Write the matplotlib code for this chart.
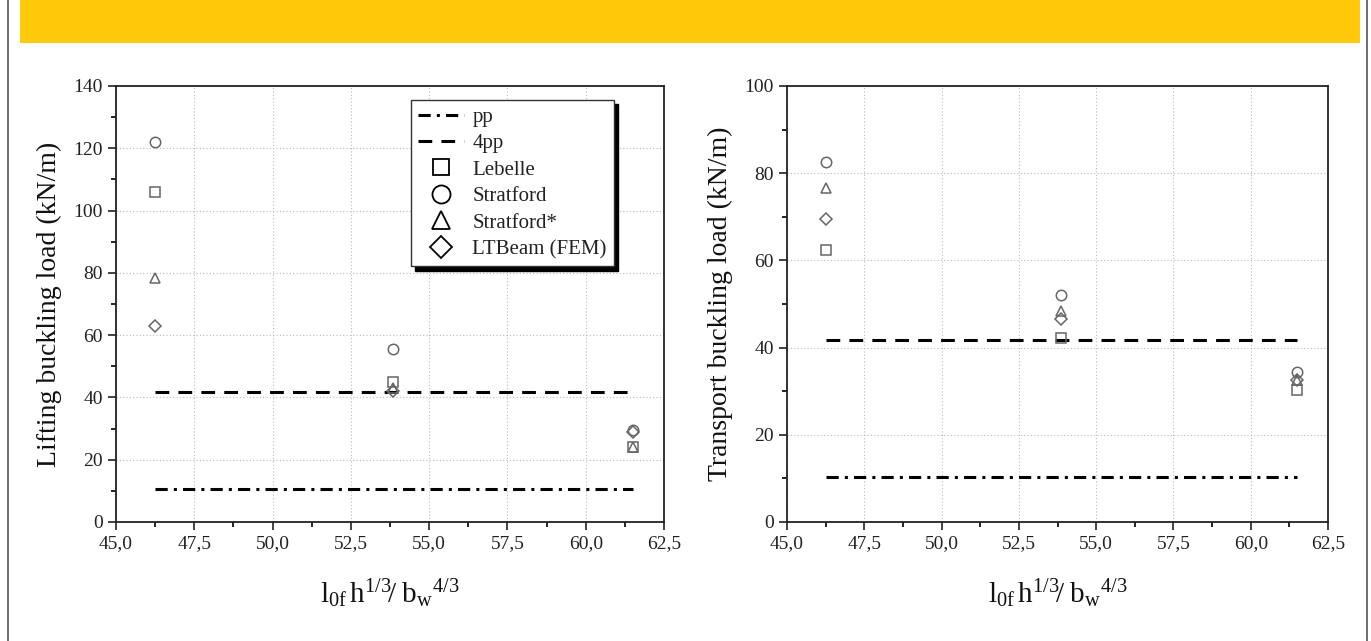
import matplotlib
matplotlib.use("Agg")
import matplotlib.pyplot as plt
from matplotlib.lines import Line2D
from matplotlib.patches import Rectangle
from matplotlib.ticker import MultipleLocator, FuncFormatter

plt.rcParams['font.family'] = ['Liberation Serif', 'DejaVu Serif']
plt.rcParams['mathtext.fontset'] = 'custom'
plt.rcParams['mathtext.rm'] = 'Liberation Serif'
plt.rcParams['mathtext.it'] = 'Liberation Serif'

# Data
x_vals = [46.25, 53.85, 61.5]
line_x = [46.25, 61.5]

lift_lebelle = [106, 45, 24]
lift_stratford = [122, 55.5, 29.5]
lift_stratford_star = [78.5, 43, 24]
lift_ltbeam = [63, 42, 29]
lift_pp = 10.5
lift_4pp = 41.7

trans_lebelle = [62.5, 42.3, 30.3]
trans_stratford = [82.5, 52, 34.5]
trans_stratford_star = [76.5, 48.5, 32.5]
trans_ltbeam = [69.5, 46.5, 32.5]
trans_pp = 10.3
trans_4pp = 41.7

W, H = 1371, 641
fig = plt.figure(figsize=(W / 100, H / 100), dpi=100)

DASHDOT = (0, (4, 2, 1, 2))
DASHED = (0, (4.5, 3))

# banner and frame
fig.patches.append(Rectangle((20 / W, 1 - 43 / H), 1340 / W, 43 / H, transform=fig.transFigure,
                             facecolor='#ffca0a', edgecolor='none', zorder=0))
fig.add_artist(Line2D([8 / W, 8 / W], [0, 1], transform=fig.transFigure, color='#555555', lw=1.2))
fig.add_artist(Line2D([1367 / W, 1367 / W], [0, 1], transform=fig.transFigure, color='#555555', lw=1.2))


def fmt(v, pos):
    return ("%.1f" % v).replace('.', ',')


def make_axes(rect, ymax, ylabel, leb, st, sts, ltb, pp, p4):
    ax = fig.add_axes(rect)
    ax.set_xlim(45, 62.5)
    ax.set_ylim(0, ymax)
    ax.xaxis.set_major_locator(MultipleLocator(2.5))
    ax.xaxis.set_minor_locator(MultipleLocator(1.25))
    ax.yaxis.set_major_locator(MultipleLocator(20))
    ax.yaxis.set_minor_locator(MultipleLocator(10))
    ax.xaxis.set_major_formatter(FuncFormatter(fmt))
    ax.grid(True, which='major', color='#bbbbbb', linestyle=(0, (1, 2)), lw=0.8)
    ax.set_axisbelow(True)
    ax.tick_params(axis='both', which='major', direction='out', length=6, width=1.2,
                   labelsize=14, colors='#222222', top=False, right=False)
    ax.tick_params(axis='both', which='minor', direction='out', length=3.5, width=1.2,
                   top=False, right=False)
    for s in ax.spines.values():
        s.set_linewidth(1.3)
        s.set_color('#222222')
    ax.plot(line_x, [pp, pp], color='black', lw=2.2, linestyle=DASHDOT)
    ax.plot(line_x, [p4, p4], color='black', lw=2.2, linestyle=DASHED)
    kw = dict(linestyle='none', markerfacecolor='none', markeredgecolor='#666666',
              markeredgewidth=1.1, markersize=7.5, zorder=3)
    ax.plot(x_vals, leb, marker='s', **kw)
    ax.plot(x_vals, st, marker='o', **kw)
    ax.plot(x_vals, sts, marker='^', **kw)
    ax.plot(x_vals, ltb, marker='D', **{**kw, 'markersize': 6.5})
    ax.set_ylabel(ylabel, fontsize=20, labelpad=8, color='#111111')
    ax.set_xlabel(r'$\mathrm{l}_{\mathrm{0f}}\,\mathrm{h}^{1/3}\!/\;\mathrm{b}_{\mathrm{w}}{}^{4/3}$',
                  fontsize=21, labelpad=18, color='#111111')
    return ax


ax1 = make_axes([116 / W, 1 - 522 / H, 548 / W, 436 / H], 140, 'Lifting buckling load (kN/m)',
                lift_lebelle, lift_stratford, lift_stratford_star, lift_ltbeam, lift_pp, lift_4pp)
ax2 = make_axes([787 / W, 1 - 522 / H, 541 / W, 436 / H], 100, 'Transport buckling load (kN/m)',
                trans_lebelle, trans_stratford, trans_stratford_star, trans_ltbeam, trans_pp, trans_4pp)

mk = dict(linestyle='none', markerfacecolor='none', markeredgecolor='black', markeredgewidth=1.3)
handles = [
    Line2D([], [], color='black', lw=2.2, linestyle=DASHDOT),
    Line2D([], [], color='black', lw=2.2, linestyle=DASHED),
    Line2D([], [], marker='s', markersize=12, **mk),
    Line2D([], [], marker='o', markersize=13, **mk),
    Line2D([], [], marker='^', markersize=13, **mk),
    Line2D([], [], marker='D', markersize=11, **mk),
]
labels = ['pp', '4pp', 'Lebelle', 'Stratford', 'Stratford*', 'LTBeam (FEM)']
leg = ax1.legend(handles, labels, loc='upper left', bbox_to_anchor=((411 - 116) / 548, 1 - (100 - 86) / 436),
                 fontsize=15, frameon=True, fancybox=False, shadow={'color': 'black', 'alpha': 1, 'ox': 3, 'oy': -3},
                 handlelength=2.2, handletextpad=0.4, labelspacing=0.33, borderpad=0.35,
                 edgecolor='#333333', framealpha=1, borderaxespad=0)
leg.get_frame().set_linewidth(1.0)
for t in leg.get_texts():
    t.set_color('#222222')

fig.savefig('out.png', dpi=100)
